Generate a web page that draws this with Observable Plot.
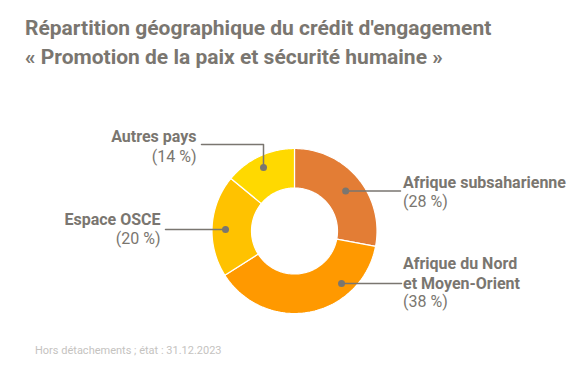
<!DOCTYPE html>
<html><head><meta charset="utf-8">
<script src="https://cdn.jsdelivr.net/npm/d3@7"></script>
<script src="https://cdn.jsdelivr.net/npm/@observablehq/plot@0.6"></script>
<style>
body{margin:0;background:#fff;width:588px;height:368px;overflow:hidden;font-family:Roboto,sans-serif;}
#title{padding:14px 0 0 25px;height:58px;font-size:21px;line-height:29px;font-weight:700;color:#7a7670;white-space:nowrap;}
#chart{height:262px;}
#caption{padding-left:35px;margin-top:10px;font-size:11px;line-height:14px;color:#c5c3bf;white-space:nowrap;}
</style></head><body>
<div id="title">Répartition géographique du crédit d'engagement<br>« Promotion de la paix et sécurité humaine »</div>
<div id="chart"></div>
<div id="caption">Hors détachements ; état : 31.12.2023</div>
<script>
// ---- data ----
const categories = ["Afrique subsaharienne", "Afrique du Nord et Moyen-Orient", "Espace OSCE", "Autres pays"];
const labelNames = [["Afrique subsaharienne"], ["Afrique du Nord", "et Moyen-Orient"], ["Espace OSCE"], ["Autres pays"]];
const shares = [28, 38, 20, 14];
const sliceColors = ["#e37d35", "#ff9900", "#ffc200", "#ffd900"];

// ---- layout (pixel units, y up, origin at donut centre) ----
const W = 588, H = 262, CY = 158.5;
const R_OUT = 82.5, R_IN = 43;
const GRAY = "#7a7670";
const labelLayout = [
  {frac: 0.515, r: 65,   side: "right", elbowY: null, endX: 106,  textX: 108.5, nameY: 43,  pctY: 24},
  {frac: 0.273, r: 70.5, side: "right", elbowY: null, endX: 107,  textX: 108.5, nameY: -57.5, pctY: -76},
  {frac: 0.467, r: 69,   side: "left",  elbowY: null, endX: -129, textX: -134, nameY: 6.2, pctY: -13},
  {frac: 0.484, r: 70.7, side: "left",  elbowY: 86.5, endX: -93,  textX: -98,  nameY: 89.5, pctY: 69}
];

// ---- derived geometry ----
const total = d3.sum(shares);
let acc = 0;
const slices = shares.map((v, i) => {
  const a0 = acc / total * 2 * Math.PI;
  acc += v;
  const a1 = acc / total * 2 * Math.PI;
  return {cat: categories[i], value: v, color: sliceColors[i], a0, a1};
});
const arcPts = [];
const N = 80;
for (const s of slices) {
  for (let t = 0; t <= N; t++) {
    const a = s.a0 + (s.a1 - s.a0) * t / N;
    arcPts.push({cat: s.cat, color: s.color, x: R_OUT * Math.sin(a), y: R_OUT * Math.cos(a)});
  }
  for (let t = N; t >= 0; t--) {
    const a = s.a0 + (s.a1 - s.a0) * t / N;
    arcPts.push({cat: s.cat, color: s.color, x: R_IN * Math.sin(a), y: R_IN * Math.cos(a)});
  }
}
const dots = [], leaders = [], names = [], pcts = [];
slices.forEach((s, i) => {
  const L = labelLayout[i];
  const a = s.a0 + (s.a1 - s.a0) * L.frac;
  const d = {cat: s.cat, x: L.r * Math.sin(a), y: L.r * Math.cos(a)};
  dots.push(d);
  leaders.push({cat: s.cat, x: d.x, y: d.y});
  if (L.elbowY != null) {
    leaders.push({cat: s.cat, x: d.x, y: L.elbowY});
    leaders.push({cat: s.cat, x: L.endX, y: L.elbowY});
  } else {
    leaders.push({cat: s.cat, x: L.endX, y: d.y});
  }
  names.push({side: L.side, x: L.textX, y: L.nameY, text: labelNames[i].join("\n")});
  pcts.push({side: L.side, x: L.textX, y: L.pctY, text: `(${s.value} %)`});
});

const textMarks = [];
for (const side of ["left", "right"]) {
  const anchor = side === "left" ? "end" : "start";
  textMarks.push(Plot.text(names.filter(d => d.side === side), {
    x: "x", y: "y", text: "text", textAnchor: anchor, lineAnchor: "bottom", lineHeight: 1.25,
    fontSize: 16, fontWeight: "bold", fontFamily: "Roboto", fill: GRAY
  }));
  textMarks.push(Plot.text(pcts.filter(d => d.side === side), {
    x: "x", y: "y", text: "text", textAnchor: anchor, lineAnchor: "bottom",
    fontSize: 16, fontFamily: "Roboto", fill: GRAY
  }));
}

const chart = Plot.plot({
  width: W, height: H, margin: 0,
  x: {domain: [-W / 2, W / 2], axis: null},
  y: {domain: [-(H - CY), CY], axis: null},
  color: {type: "identity"},
  style: {background: "#fff", overflow: "visible"},
  marks: [
    Plot.line(arcPts, {x: "x", y: "y", z: "cat", fill: "color", stroke: "#fff", strokeWidth: 1.2, curve: "linear-closed"}),
    Plot.line(leaders, {x: "x", y: "y", z: "cat", stroke: GRAY, strokeWidth: 1.5}),
    Plot.dot(dots, {x: "x", y: "y", r: 3.5, fill: GRAY, stroke: "none"}),
    ...textMarks
  ]
});
document.getElementById("chart").appendChild(chart);
</script>
</body></html>
